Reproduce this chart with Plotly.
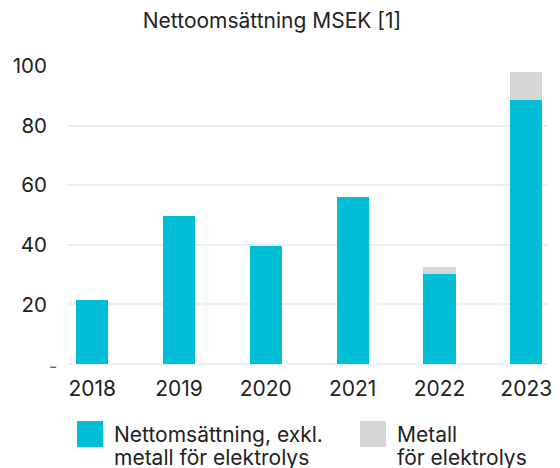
import plotly.graph_objects as go

years = ["2018", "2019", "2020", "2021", "2022", "2023"]
netto_exkl = [21.4, 49.7, 39.5, 55.9, 30.1, 88.5]
metall = [0, 0, 0, 0, 2.3, 9.4]
name_netto = ["Nettomsättning, exkl.", "metall för elektrolys"]
name_metall = ["Metall", "för elektrolys"]
title_text = "Nettoomsättning MSEK [1]"
y_tickvals = [20, 40, 60, 80, 100]
y_ticktext = ["20", "40", "60", "80", "100"]
zero_label = "-"

teal = "#00BED6"
grey = "#D6D6D4"
grid = "#E4F1F8"
font_family = "Inter, Roboto, sans-serif"
txt = "#222222"

# figure is 552x460 (page body has an 8px margin)
W, H = 552, 460
L, R, T, B = 59, 12, 58, 104
PW, PH = W - L - R, H - T - B

fig = go.Figure()
fig.add_trace(go.Bar(x=years, y=netto_exkl, name=" ".join(name_netto),
                     marker=dict(color=teal, line=dict(width=0))))
fig.add_trace(go.Bar(x=years, y=metall, name=" ".join(name_metall),
                     marker=dict(color=grey, line=dict(width=0))))

fig.update_layout(
    width=W, height=H,
    barmode="stack", bargap=0.63,
    showlegend=False,
    paper_bgcolor="white", plot_bgcolor="white",
    margin=dict(l=L, r=R, t=T, b=B, autoexpand=False),
    font=dict(family=font_family, size=20, color=txt),
    title=dict(text=title_text, x=264 / W, xref="container", xanchor="center",
               y=1 - 12.5 / H, yref="container", yanchor="middle",
               font=dict(size=21, color=txt)),
    xaxis=dict(type="category", range=[-0.29, 5.25], showgrid=False, showline=False,
               zeroline=False, ticks="", ticklabelstandoff=10, automargin=False,
               tickfont=dict(size=21)),
    yaxis=dict(range=[0, 100], tickvals=y_tickvals, ticktext=y_ticktext,
               showgrid=True, gridcolor=grid, gridwidth=2, zeroline=True,
               zerolinecolor=grid, zerolinewidth=2, showline=False, ticks="",
               ticklabelstandoff=19, automargin=False, tickfont=dict(size=20.5)),
)

def px_x(fx):
    return (fx - L) / PW

def px_y(fy):
    return (H - B - fy) / PH

# zero tick label (a small dash, set closer to the axis)
fig.add_annotation(text=zero_label, xref="paper", yref="y", x=px_x(51), y=0,
                   xanchor="right", yanchor="middle", yshift=-2, showarrow=False,
                   font=dict(size=18, color="#666666"))

# Custom legend (large square swatches)
legend_items = [(name_netto, teal, 69), (name_metall, grey, 352)]
for lines, color, x0 in legend_items:
    fig.add_shape(type="rect", xref="paper", yref="paper",
                  x0=px_x(x0), x1=px_x(x0 + 26),
                  y0=px_y(439), y1=px_y(413),
                  fillcolor=color, line=dict(width=0))
    for i, line in enumerate(lines):
        fig.add_annotation(text=line, xref="paper", yref="paper",
                           x=px_x(x0 + 35), y=px_y(426 + 23 * i),
                           xanchor="left", yanchor="middle", align="left",
                           showarrow=False, font=dict(size=21, color=txt))

fig.write_html("out.html")
